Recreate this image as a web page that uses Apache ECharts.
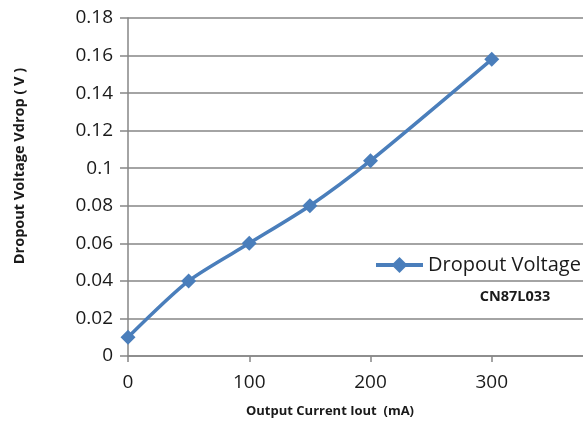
<!DOCTYPE html>
<html>
<head>
<meta charset="utf-8">
<script src="https://cdn.jsdelivr.net/npm/echarts@6/dist/echarts.min.js"></script>
<style>
  html, body { margin: 0; padding: 0; background: #fff; }
  #chart { width: 583px; height: 426px; }
</style>
</head>
<body>
<div id="chart"></div>
<script>
// Output current (mA) and measured dropout voltage (V)
const currents = [0, 50, 100, 150, 200, 300];
const dropout = [0.01, 0.04, 0.06, 0.08, 0.104, 0.158];
const seriesName = 'Dropout Voltage';
const partNumber = 'CN87L033';
const xTitle = 'Output Current Iout  (mA)';
const yTitle = 'Dropout Voltage Vdrop ( V )';

const chart = echarts.init(document.getElementById('chart'));
const font = '"Open Sans", "Noto Sans", sans-serif';
const gray = '#868686';
const blue = '#4a7ebb';
const ink = '#1a1a1a';

chart.setOption({
  animation: false,
  backgroundColor: '#ffffff',
  // plot area runs past the right edge of the canvas
  grid: { left: 128, top: 18, width: 485, height: 338, containLabel: false, outerBoundsMode: 'none' },
  legend: {
    data: [seriesName],
    left: 369, top: 250,
    itemWidth: 47, itemHeight: 20, itemGap: 6,
    lineStyle: { width: 4 },
    textStyle: { fontFamily: font, fontSize: 20, color: ink }
  },
  graphic: [
    {
      type: 'text', x: 515, y: 297,
      style: { text: partNumber, fontFamily: font, fontSize: 14.5, fontWeight: 'bold', fill: ink,
        align: 'center', verticalAlign: 'middle' }
    },
    {
      type: 'text', x: 330, y: 411,
      style: { text: xTitle, fontFamily: font, fontSize: 13, fontWeight: 'bold', fill: ink,
        align: 'center', verticalAlign: 'middle' }
    },
    {
      type: 'text', x: 20, y: 166, rotation: Math.PI / 2,
      style: { text: yTitle, fontFamily: font, fontSize: 14.5, fontWeight: 'bold', fill: ink,
        align: 'center', verticalAlign: 'middle' }
    }
  ],
  xAxis: {
    type: 'value', min: 0, max: 400, interval: 100,
    axisLine: { show: true, lineStyle: { color: gray, width: 1.5 } },
    axisTick: { show: true, length: 6, lineStyle: { color: gray, width: 1.5 } },
    axisLabel: { fontFamily: font, fontSize: 19, color: ink, margin: 17, showMaxLabel: false },
    splitLine: { show: false }
  },
  yAxis: {
    type: 'value', min: 0, max: 0.18, interval: 0.02,
    axisLine: { show: true, lineStyle: { color: gray, width: 1.5 } },
    axisTick: { show: true, length: 8, lineStyle: { color: gray, width: 1.5 } },
    axisLabel: { fontFamily: font, fontSize: 19, color: ink, margin: 15,
      formatter: v => String(parseFloat(v.toFixed(2))) },
    splitLine: { show: true, lineStyle: { color: gray, width: 1.5 } }
  },
  series: [{
    name: seriesName,
    type: 'line',
    data: currents.map((c, i) => [c, dropout[i]]),
    smooth: 0.25,
    symbol: 'diamond', symbolSize: 15,
    lineStyle: { color: blue, width: 3.5 },
    itemStyle: { color: blue }
  }]
});
</script>
</body>
</html>
